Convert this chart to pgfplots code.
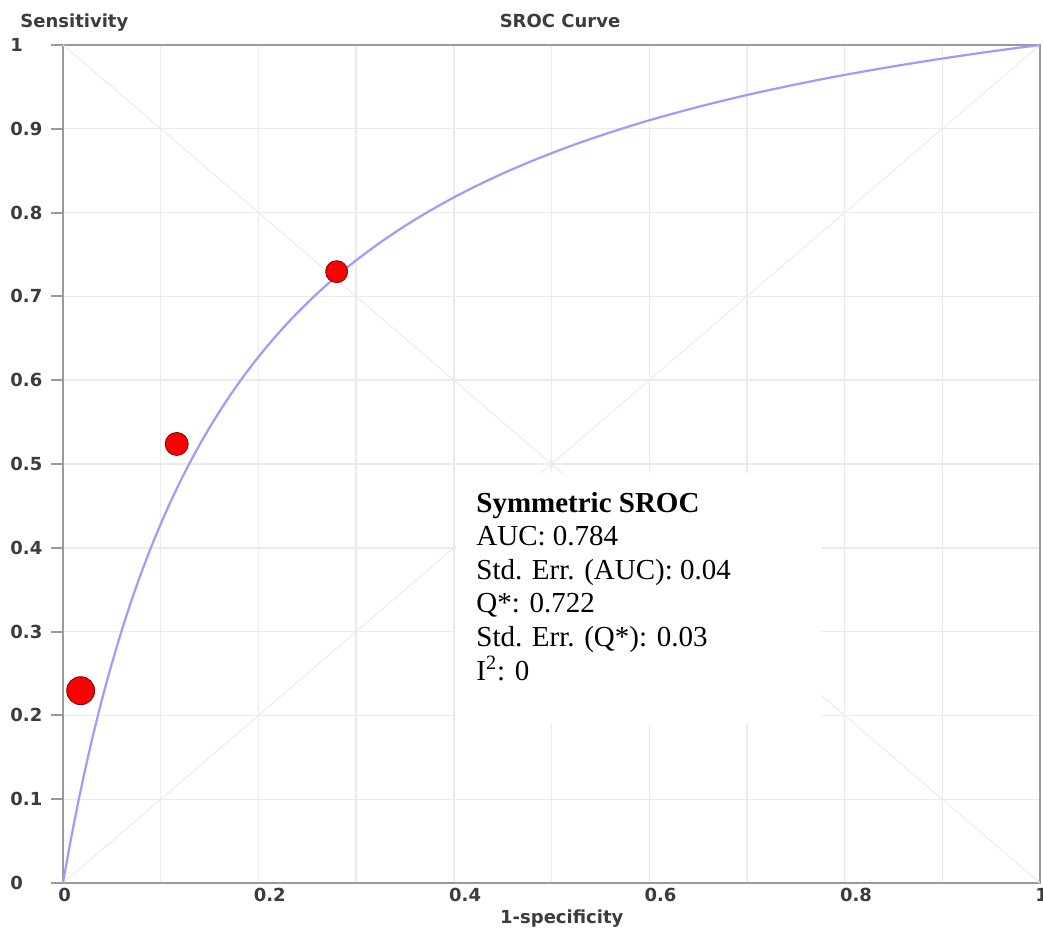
\documentclass[border=0pt]{standalone}
\usepackage{fontspec}
\setmainfont{Liberation Serif}
\setsansfont{DejaVu Sans}
\usepackage{pgfplots}
\pgfplotsset{compat=1.18}
\definecolor{gridgray}{HTML}{EBEBEB}
\definecolor{framegray}{HTML}{9A9A9A}
\definecolor{labgray}{HTML}{3C3C3C}
\definecolor{curveblue}{HTML}{9C9CFF}
\definecolor{diaggray}{HTML}{EAEAEA}
\newcommand{\lab}{\fontsize{9}{10}\selectfont\sffamily\bfseries}
\newcommand{\boxfont}{\fontsize{14.5}{16.8}\selectfont}

\begin{document}
\begin{tikzpicture}
\useasboundingbox (-31.5pt,-24.5pt) rectangle (490pt,441.5pt);
\begin{axis}[
  scale only axis, width=488.5pt, height=419pt,
  xmin=0, xmax=1, ymin=0, ymax=1,
  axis line style={draw=framegray, line width=1pt},
  xtick={0,0.2,0.4,0.6,0.8,1},
  xticklabels={0,0.2,0.4,0.6,0.8,1},
  minor xtick={0.1,0.3,0.5,0.7,0.9},
  ytick={0,0.1,0.2,0.3,0.4,0.5,0.6,0.7,0.8,0.9,1},
  yticklabels={0,0.1,0.2,0.3,0.4,0.5,0.6,0.7,0.8,0.9,1},
  tick pos=left,
  grid=both,
  major grid style={draw=gridgray, line width=0.7pt},
  minor grid style={draw=gridgray, line width=0.7pt},
  ytick align=outside, xtick align=inside,
  major tick length=6pt, minor tick length=0pt,
  xtick style={draw=none},
  ytick style={draw=framegray, line width=1pt},
  yticklabel style={font=\lab, text=labgray, anchor=west, inner sep=0pt, xshift=-20.5pt},
  xticklabel style={font=\lab, text=labgray, anchor=north west, inner sep=0pt, xshift=-2.5pt, yshift=-2.5pt},
  clip=false,
]
% diagonals
\addplot[diaggray, line width=0.5pt] coordinates {(0,0) (1,1)};
\addplot[diaggray, line width=0.5pt] coordinates {(0,1) (1,0)};
% white statistics box
\fill[white] (axis cs:0.4022,0.1909) rectangle (axis cs:0.7758,0.4893);
% SROC curve
\addplot[curveblue, line width=1.1pt, smooth, tension=0.5] table {
x y
0 0
0.0025 0.01662
0.005 0.0328
0.0075 0.0485
0.01 0.0638
0.015 0.09315
0.02 0.1210
0.025 0.14745
0.03 0.1726
0.035 0.19655
0.04 0.2194
0.045 0.24118
0.05 0.2620
0.06 0.3010
0.07 0.33673
0.08 0.3697
0.09 0.40015
0.10 0.4284
0.11 0.45464
0.12 0.4791
0.13 0.50196
0.14 0.52336
0.15 0.5434
0.1625 0.56686
0.175 0.58861
0.1875 0.60885
0.20 0.6277
0.2125 0.64540
0.225 0.66196
0.2375 0.67751
0.25 0.6921
0.2625 0.70595
0.275 0.71898
0.2875 0.73130
0.30 0.7430
0.325 0.76458
0.35 0.7841
0.375 0.80186
0.40 0.8181
0.425 0.83293
0.45 0.8466
0.475 0.85921
0.50 0.8709
0.525 0.88173
0.55 0.8918
0.575 0.90124
0.60 0.9101
0.625 0.91831
0.65 0.9261
0.675 0.93338
0.70 0.9403
0.725 0.94676
0.75 0.9529
0.775 0.95873
0.80 0.9643
0.825 0.96951
0.85 0.9745
0.875 0.97926
0.90 0.9838
0.925 0.98812
0.95 0.9923
0.975 0.99621
1.0 1
};
% study points
\addplot[only marks, mark=*, mark size=7pt, mark options={fill=red, draw=red!45!black, line width=0.4pt}] coordinates {(0.0181,0.2295)};
\addplot[only marks, mark=*, mark size=5.75pt, mark options={fill=red, draw=red!45!black, line width=0.4pt}] coordinates {(0.1164,0.5239)};
\addplot[only marks, mark=*, mark size=5.5pt, mark options={fill=red, draw=red!45!black, line width=0.4pt}] coordinates {(0.2801,0.7295)};
% statistics text
\node[anchor=base west, inner sep=0pt, font=\boxfont] at (axis cs:0.4227,0.4427) {\textbf{Symmetric SROC}};
\node[anchor=base west, inner sep=0pt, font=\boxfont] at (axis cs:0.4227,0.4026) {AUC: 0.784};
\node[anchor=base west, inner sep=0pt, font=\boxfont] at (axis cs:0.4227,0.3625) {Std. Err. (AUC): 0.04};
\node[anchor=base west, inner sep=0pt, font=\boxfont] at (axis cs:0.4227,0.3224) {Q*: 0.722};
\node[anchor=base west, inner sep=0pt, font=\boxfont] at (axis cs:0.4227,0.2823) {Std. Err. (Q*): 0.03};
\node[anchor=base west, inner sep=0pt, font=\boxfont] at (axis cs:0.4227,0.2422) {I\textsuperscript{2}: 0};
% titles
\node[anchor=base west, inner sep=0pt, font=\lab, text=labgray, xshift=-21.5pt, yshift=8.5pt] at (rel axis cs:0,1) {Sensitivity};
\node[anchor=base, inner sep=0pt, font=\lab, text=labgray, yshift=8.5pt] at (axis cs:0.5087,1) {SROC Curve};
\node[anchor=base, inner sep=0pt, font=\lab, text=labgray, yshift=-20pt] at (axis cs:0.5105,0) {1-specificity};
\end{axis}
\end{tikzpicture}
\end{document}
